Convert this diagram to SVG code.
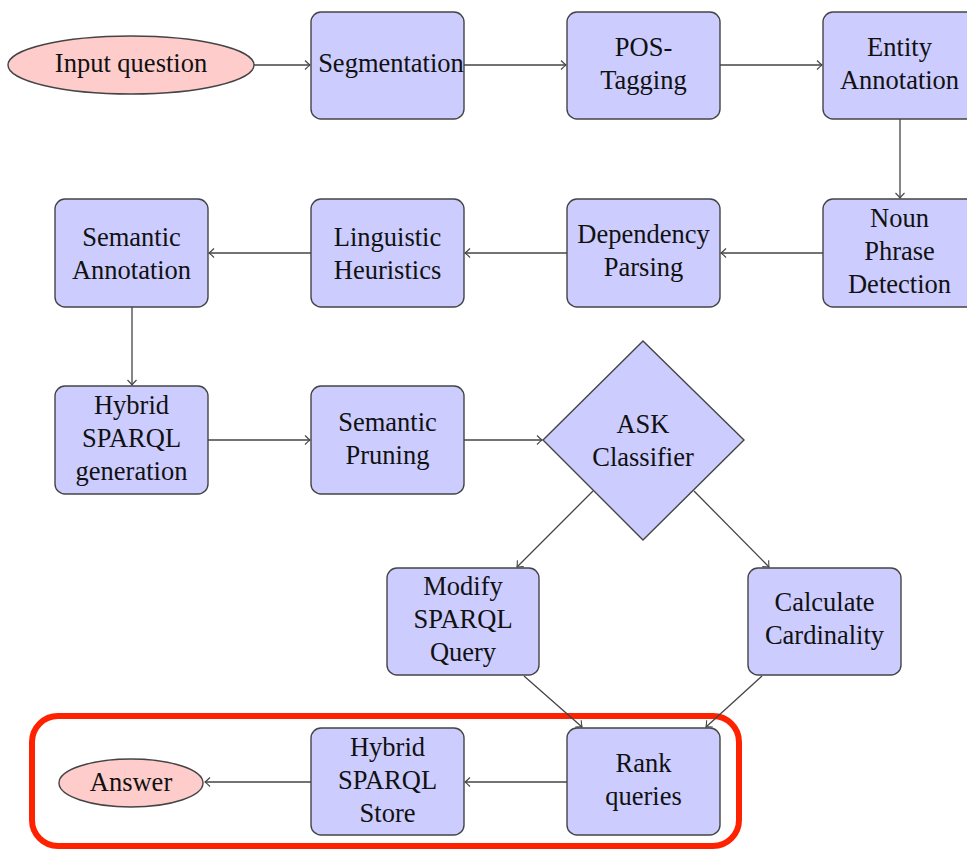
<svg xmlns="http://www.w3.org/2000/svg" width="967" height="850" viewBox="0 0 967 850">
<style>
.box{fill:#ccccff;stroke:#444;stroke-width:1.4}
.ell{fill:#ffcccc;stroke:#444;stroke-width:1.4}
.t{font-family:"Liberation Serif","Times New Roman",serif;font-size:26.5px;fill:#111;text-anchor:middle}
.c{fill:none;stroke:#444;stroke-width:1.3;marker-end:url(#arr)}
</style>
<defs>
<marker id="arr" viewBox="-7 -6 8 12" refX="0" refY="0" markerWidth="8" markerHeight="12" markerUnits="userSpaceOnUse" orient="auto">
<path d="M-5,-4.5 Q-1.5,-1 0,0 Q-1.5,1 -5,4.5" fill="none" stroke="#444" stroke-width="1.1"/>
</marker>
</defs>
<rect x="32" y="716" width="707" height="130" rx="26" fill="none" stroke="#ff2200" stroke-width="6"/>
<g id="connectors">
<line class="c" x1="254" y1="65" x2="310" y2="65"/>
<line class="c" x1="464" y1="65" x2="566" y2="65"/>
<line class="c" x1="720" y1="65" x2="822" y2="65"/>
<line class="c" x1="900" y1="119" x2="900" y2="198"/>
<line class="c" x1="823" y1="253" x2="721" y2="253"/>
<line class="c" x1="567" y1="253" x2="465" y2="253"/>
<line class="c" x1="311" y1="253" x2="209" y2="253"/>
<line class="c" x1="132" y1="307" x2="132" y2="385"/>
<line class="c" x1="208" y1="440" x2="310" y2="440"/>
<line class="c" x1="464" y1="440" x2="542" y2="440"/>
<line class="c" x1="593" y1="491" x2="517" y2="567"/>
<line class="c" x1="694" y1="491" x2="769" y2="567"/>
<line class="c" x1="524" y1="676" x2="582" y2="727"/>
<line class="c" x1="762" y1="676" x2="706" y2="727"/>
<line class="c" x1="567" y1="782" x2="465" y2="782"/>
<line class="c" x1="311" y1="782" x2="205" y2="782"/>
</g>
<g id="input">
<ellipse class="ell" cx="131" cy="65" rx="123" ry="29"/>
<text class="t" x="131" y="72">Input question</text>
</g>
<g id="segmentation">
<rect class="box" x="311" y="12" width="153" height="107" rx="10"/>
<text class="t" x="391" y="72">Segmentation</text>
</g>
<g id="pos">
<rect class="box" x="567" y="12" width="153" height="107" rx="10"/>
<text class="t" x="643.5" y="56">POS-</text>
<text class="t" x="643.5" y="89">Tagging</text>
</g>
<g id="entity">
<rect class="box" x="823" y="12" width="153" height="107" rx="10"/>
<text class="t" x="899.5" y="56">Entity</text>
<text class="t" x="899.5" y="89">Annotation</text>
</g>
<g id="noun">
<rect class="box" x="823" y="199" width="153" height="108" rx="10"/>
<text class="t" x="899.5" y="227">Noun</text>
<text class="t" x="899.5" y="260">Phrase</text>
<text class="t" x="899.5" y="293">Detection</text>
</g>
<g id="dependency">
<rect class="box" x="567" y="199" width="153" height="108" rx="10"/>
<text class="t" x="643.5" y="243">Dependency</text>
<text class="t" x="643.5" y="276">Parsing</text>
</g>
<g id="linguistic">
<rect class="box" x="311" y="199" width="153" height="108" rx="10"/>
<text class="t" x="387.5" y="246">Linguistic</text>
<text class="t" x="387.5" y="279">Heuristics</text>
</g>
<g id="semantic-annotation">
<rect class="box" x="55" y="199" width="153" height="108" rx="10"/>
<text class="t" x="131.5" y="246">Semantic</text>
<text class="t" x="131.5" y="279">Annotation</text>
</g>
<g id="hybrid-gen">
<rect class="box" x="55" y="386" width="153" height="108" rx="10"/>
<text class="t" x="131.5" y="414">Hybrid</text>
<text class="t" x="131.5" y="447">SPARQL</text>
<text class="t" x="131.5" y="480">generation</text>
</g>
<g id="pruning">
<rect class="box" x="311" y="386" width="153" height="108" rx="10"/>
<text class="t" x="387.5" y="431">Semantic</text>
<text class="t" x="387.5" y="464">Pruning</text>
</g>
<g id="ask">
<polygon class="box" points="643,341 744,440 643,540 543,440"/>
<text class="t" x="643" y="433">ASK</text>
<text class="t" x="643" y="466">Classifier</text>
</g>
<g id="modify">
<rect class="box" x="387" y="568" width="152" height="107" rx="10"/>
<text class="t" x="463" y="595">Modify</text>
<text class="t" x="463" y="628">SPARQL</text>
<text class="t" x="463" y="661">Query</text>
</g>
<g id="calculate">
<rect class="box" x="748" y="568" width="153" height="107" rx="10"/>
<text class="t" x="824.5" y="611">Calculate</text>
<text class="t" x="824.5" y="644">Cardinality</text>
</g>
<g id="rank">
<rect class="box" x="567" y="728" width="153" height="107" rx="10"/>
<text class="t" x="643.5" y="772">Rank</text>
<text class="t" x="643.5" y="805">queries</text>
</g>
<g id="store">
<rect class="box" x="311" y="728" width="153" height="107" rx="10"/>
<text class="t" x="387.5" y="756">Hybrid</text>
<text class="t" x="387.5" y="789">SPARQL</text>
<text class="t" x="387.5" y="822">Store</text>
</g>
<g id="answer">
<ellipse class="ell" cx="131" cy="783" rx="72" ry="24"/>
<text class="t" x="131" y="791">Answer</text>
</g>
</svg>
